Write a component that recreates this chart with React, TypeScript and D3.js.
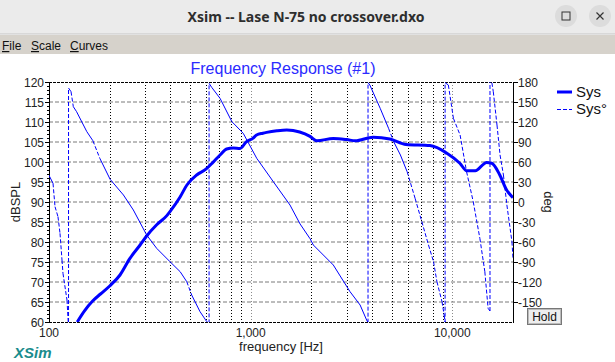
import React, { useRef, useEffect } from "react";
import * as d3 from "d3";

// magnitude (Sys)
const magFreq = [138, 150, 165, 180, 200, 225, 252, 283, 305, 342, 384, 398, 446, 483, 540, 600, 650, 705, 760, 820, 886, 954, 1025, 1070, 1150, 1200, 1350, 1510, 1750, 1970, 2130, 2570, 3000, 3300, 4050, 4900, 5900, 7750, 9400, 10900, 11800, 13000, 14800, 15700, 17200, 18600, 20000];
const magDb = [60, 62.8, 65.3, 67, 69, 71.75, 75.9, 79.25, 81.5, 84.3, 86.6, 87.6, 91.2, 94.25, 96.75, 98.2, 99.9, 101.75, 103.25, 103.5, 103.4, 105.1, 105.9, 106.75, 107.2, 107.4, 107.8, 108, 107.5, 106.4, 105.3, 105.9, 105.6, 105.3, 106.2, 105.75, 104.4, 104.1, 102.2, 99.7, 97.8, 97.8, 99.9, 99.7, 96.75, 93, 91.1];

// phase (Sys°), wrapped, wrap points listed twice
const phaseFreq = [100, 104.7, 107.1, 110.8, 113.4, 116, 117.3, 122.8, 125, 125, 128.6, 132, 137, 154, 165, 179, 201, 234, 262, 305, 342, 398, 447, 482, 510, 561, 606, 622, 622, 641, 705, 807, 919, 1072, 1295, 1567, 1759, 1970, 2046, 2570, 3110, 3490, 3760, 3820, 3820, 3900, 4390, 4830, 5120, 5530, 5970, 6540, 7060, 7620, 8070, 8390, 8890, 9110, 9210, 9210, 9560, 10130, 10930, 11770, 12700, 13700, 14500, 15050, 15380, 15380, 15970, 16660, 17250, 17930, 18650, 19760, 20000];
const phaseDeg = [40, 28, -7, -22, -47, -87, -107, -147, -189, 171, 165.5, 143, 135.5, 105.5, 92, 65, 34, 10.5, -12, -49.5, -69.5, -89.5, -104.5, -119.5, -139.5, -164.5, -179.5, -182, 178, 172, 155.5, 120.5, 103, 65.5, 30.5, -4.5, -33, -55, -64.5, -94.5, -134.5, -154.5, -177, -181, 179, 175.5, 140.5, 110.5, 90.5, 70.5, 45.5, 5.5, -29.5, -64.5, -89.5, -119.5, -149.5, -169.5, -181, 179, 175.5, 125.5, 100.5, 45.5, 0.5, -54.5, -104.5, -159.5, -163.5, 196.5, 165.5, 115.5, 70.5, 40.5, -4.5, -59.5, -84.5];

const dbTicks = [120, 115, 110, 105, 100, 95, 90, 85, 80, 75, 70, 65, 60];
const degTicks = [180, 150, 120, 90, 60, 30, 0, -30, -60, -90, -120, -150];
const freqLabels = [100, 1000, 10000];
const freqGrid = [200, 300, 400, 500, 600, 700, 800, 900, 1000, 2000, 3000, 4000, 5000, 6000, 7000, 8000, 9000, 10000];
const menuItems = ["File", "Scale", "Curves"];

const FONT = "'Liberation Sans', Arial, sans-serif";

const App = () => {
  const svgRef = useRef<SVGSVGElement>(null);

  useEffect(() => {
    const svg = d3.select(svgRef.current);
    svg.selectAll("*").remove();

    const left = 49, right = 513, top = 82, bottom = 322;

    const x = d3.scaleLog().domain([100, 20000]).range([left, right]);
    const y = d3.scaleLinear().domain([60, 120]).range([bottom, top]);
    const yp = d3.scaleLinear().domain([-180, 180]).range([bottom, top]);

    // window chrome
    svg.append("rect").attr("width", 615).attr("height", 362).attr("fill", "#ffffff");
    svg.append("rect").attr("width", 615).attr("height", 34).attr("fill", "#ebebeb");
    svg.append("line").attr("x1", 0).attr("x2", 615).attr("y1", 34).attr("y2", 34).attr("stroke", "#c4c4c4");
    svg.append("text")
      .attr("x", 306).attr("y", 22)
      .attr("text-anchor", "middle")
      .attr("font-family", "'Noto Sans', sans-serif")
      .attr("font-weight", "bold")
      .attr("font-size", 14)
      .attr("fill", "#2e2e2e")
      .text("Xsim -- Lase N-75 no crossover.dxo");
    [566, 600].forEach((cx) => {
      svg.append("circle").attr("cx", cx).attr("cy", 16).attr("r", 11).attr("fill", "#dcdcdc");
    });
    svg.append("rect").attr("x", 562).attr("y", 12).attr("width", 8).attr("height", 8)
      .attr("fill", "none").attr("stroke", "#333").attr("stroke-width", 1);
    svg.append("path").attr("d", "M596.5,12.5L603.5,19.5M603.5,12.5L596.5,19.5")
      .attr("stroke", "#333").attr("stroke-width", 1.2);

    svg.append("rect").attr("y", 35).attr("width", 615).attr("height", 19).attr("fill", "#d6d2cb");
    const menuX = [2, 31, 70];
    menuItems.forEach((m, i) => {
      const t = svg.append("text")
        .attr("x", menuX[i]).attr("y", 50)
        .attr("font-family", FONT).attr("font-size", 12).attr("fill", "#111");
      t.append("tspan").attr("text-decoration", "underline").text(m[0]);
      t.append("tspan").text(m.slice(1));
    });

    // grid
    svg.append("g").selectAll("line").data(dbTicks.slice(1, -1)).enter().append("line")
      .attr("x1", left).attr("x2", right)
      .attr("y1", (d) => y(d)).attr("y2", (d) => y(d))
      .attr("stroke", "#7a7a7a").attr("stroke-dasharray", "4,2");

    svg.append("g").selectAll("line").data(freqGrid).enter().append("line")
      .attr("x1", (d) => Math.round(x(d)) + 0.5).attr("x2", (d) => Math.round(x(d)) + 0.5)
      .attr("y1", top).attr("y2", bottom)
      .attr("stroke", (d) => (d === 1000 || d === 10000 ? "#8a8a8a" : "#000"))
      .attr("stroke-dasharray", "1,2");

    // frame
    [top, bottom].forEach((yy) => {
      svg.append("line").attr("x1", left).attr("x2", right).attr("y1", yy + 0.5).attr("y2", yy + 0.5)
        .attr("stroke", "#000").attr("stroke-dasharray", "3,1");
    });
    [left, right].forEach((xx) => {
      svg.append("line").attr("x1", xx + 0.5).attr("x2", xx + 0.5).attr("y1", top).attr("y2", bottom + 1)
        .attr("stroke", "#000");
    });

    // left axis
    const minor = d3.range(60, 121, 1);
    svg.append("g").selectAll("line").data(minor).enter().append("line")
      .attr("x1", (d) => (d % 5 === 0 ? left - 4 : left - 2)).attr("x2", left)
      .attr("y1", (d) => Math.round(y(d)) + 0.5).attr("y2", (d) => Math.round(y(d)) + 0.5)
      .attr("stroke", "#000");
    svg.append("g").selectAll("text").data(dbTicks).enter().append("text")
      .attr("x", left - 5).attr("y", (d) => y(d) + 4.5)
      .attr("text-anchor", "end")
      .attr("font-family", FONT).attr("font-size", 12).attr("fill", "#222")
      .text((d) => d);

    // right axis
    svg.append("g").selectAll("line").data(degTicks).enter().append("line")
      .attr("x1", right).attr("x2", right + 5)
      .attr("y1", (d) => Math.round(yp(d)) + 0.5).attr("y2", (d) => Math.round(yp(d)) + 0.5)
      .attr("stroke", "#000");
    svg.append("g").selectAll("text").data(degTicks).enter().append("text")
      .attr("x", right + 5).attr("y", (d) => yp(d) + 4.5)
      .attr("font-family", FONT).attr("font-size", 12).attr("fill", "#222")
      .text((d) => d);

    // bottom labels
    svg.append("g").selectAll("text").data(freqLabels).enter().append("text")
      .attr("x", (d) => x(d)).attr("y", 337)
      .attr("text-anchor", "middle")
      .attr("font-family", FONT).attr("font-size", 12).attr("fill", "#222")
      .text((d) => d3.format(",")(d));

    svg.append("text").attr("x", 281).attr("y", 351).attr("text-anchor", "middle")
      .attr("font-family", FONT).attr("font-size", 13).attr("fill", "#222")
      .text("frequency [Hz]");
    svg.append("text").attr("transform", "translate(20,202) rotate(-90)").attr("text-anchor", "middle")
      .attr("font-family", FONT).attr("font-size", 13).attr("fill", "#222")
      .text("dBSPL");
    svg.append("text").attr("transform", "translate(544,202) rotate(90)").attr("text-anchor", "middle")
      .attr("font-family", FONT).attr("font-size", 13).attr("fill", "#222")
      .text("deg");

    svg.append("text").attr("x", 283).attr("y", 74).attr("text-anchor", "middle")
      .attr("font-family", FONT).attr("font-size", 16).attr("fill", "#2b2bff")
      .text("Frequency Response (#1)");

    // curves
    svg.append("defs").append("clipPath").attr("id", "plotclip")
      .append("rect").attr("x", left).attr("y", top).attr("width", right - left).attr("height", bottom - top);

    const pts = phaseFreq.map((f, i) => [x(f), yp(phaseDeg[i])]);
    const segs = pts.slice(1).map((p, i) => [pts[i], p]);
    svg.append("g").attr("clip-path", "url(#plotclip)")
      .selectAll("line").data(segs).enter().append("line")
      .attr("x1", (d) => d[0][0]).attr("y1", (d) => d[0][1])
      .attr("x2", (d) => d[1][0]).attr("y2", (d) => d[1][1])
      .attr("stroke", "#0000ff").attr("stroke-width", 1)
      .attr("stroke-dasharray", (d) => {
        const dx = Math.abs(d[1][0] - d[0][0]);
        const dy = Math.abs(d[1][1] - d[0][1]);
        return dy > 2.5 * dx ? "4,2" : null;
      });

    const magLine = d3.line<number>()
      .x((d, i) => x(magFreq[i]))
      .y((d) => y(d))
      .curve(d3.curveMonotoneX);
    svg.append("path").attr("clip-path", "url(#plotclip)")
      .datum(magDb)
      .attr("d", magLine)
      .attr("fill", "none").attr("stroke", "#0000ff").attr("stroke-width", 3);

    // legend
    svg.append("line").attr("x1", 557).attr("x2", 572).attr("y1", 92).attr("y2", 92)
      .attr("stroke", "#0000ff").attr("stroke-width", 3);
    svg.append("text").attr("x", 576).attr("y", 97)
      .attr("font-family", FONT).attr("font-size", 15).attr("fill", "#111").text("Sys");
    svg.append("line").attr("x1", 557).attr("x2", 572).attr("y1", 109.5).attr("y2", 109.5)
      .attr("stroke", "#0000ff").attr("stroke-width", 1).attr("stroke-dasharray", "4,2");
    svg.append("text").attr("x", 576).attr("y", 114)
      .attr("font-family", FONT).attr("font-size", 15).attr("fill", "#111").text("Sys°");

    // Hold button
    svg.append("rect").attr("x", 527.5).attr("y", 308.5).attr("width", 34).attr("height", 16)
      .attr("fill", "#eeeeee").attr("stroke", "#777");
    svg.append("rect").attr("x", 528.5).attr("y", 309.5).attr("width", 32).attr("height", 14)
      .attr("fill", "none").attr("stroke", "#bbb");
    svg.append("text").attr("x", 544.5).attr("y", 321).attr("text-anchor", "middle")
      .attr("font-family", FONT).attr("font-size", 12).attr("fill", "#111").text("Hold");

    svg.append("text").attr("x", 14).attr("y", 358)
      .attr("font-family", FONT).attr("font-size", 15).attr("font-weight", "bold").attr("font-style", "italic")
      .attr("fill", "#1a8c8c").text("XSim");
  }, []);

  return (
    <svg
      ref={svgRef}
      width={615}
      height={362}
      style={{ position: "absolute", left: 0, top: 0, display: "block" }}
    />
  );
};

export default App;
